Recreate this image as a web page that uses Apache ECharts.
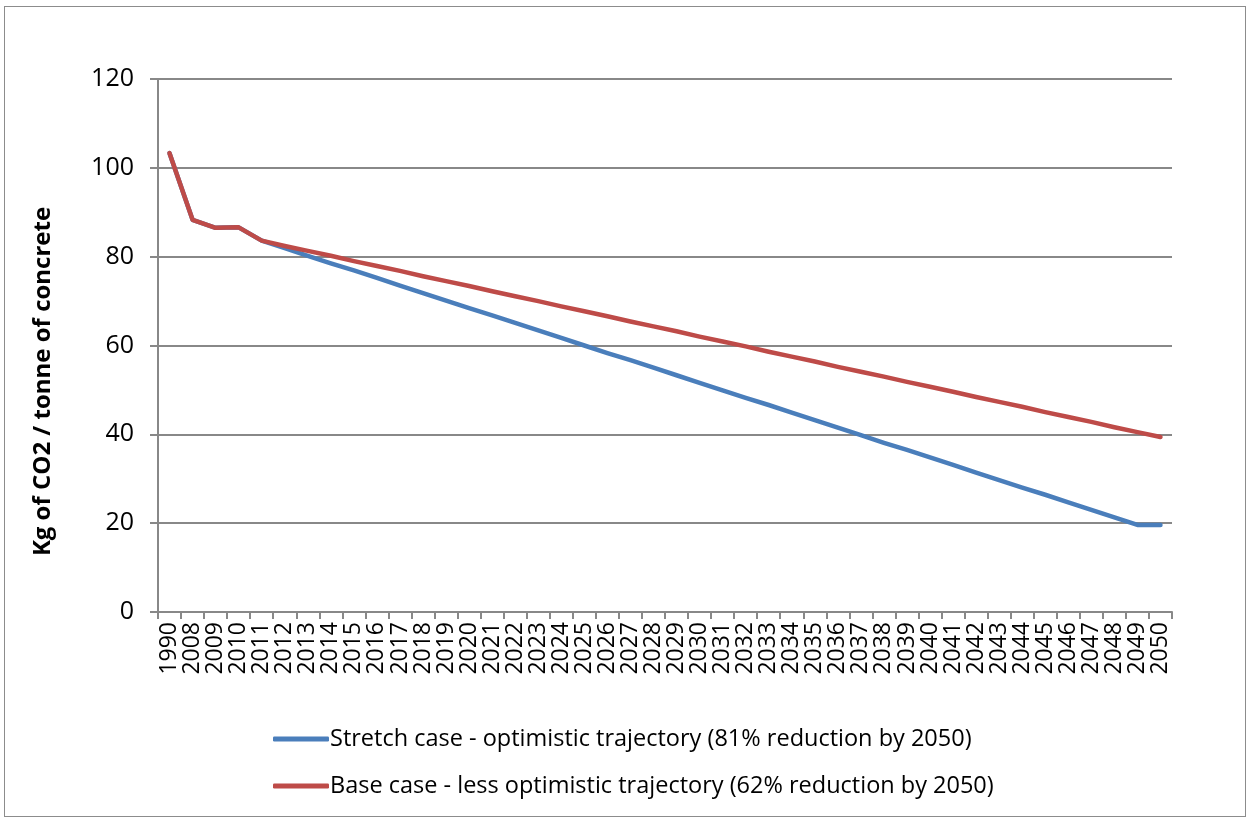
<!DOCTYPE html>
<html>
<head>
<meta charset="utf-8">
<script src="https://cdn.jsdelivr.net/npm/echarts@6/dist/echarts.min.js"></script>
<style>
html,body{margin:0;padding:0;background:#fff;}
#frame{position:absolute;left:4px;top:6px;width:1242px;height:811px;border:1px solid #8c8c8c;box-sizing:border-box;}
#chart{position:absolute;left:0;top:0;width:1250px;height:821px;}
</style>
</head>
<body>
<div id="frame"></div>
<div id="chart"></div>
<script>
const categories = ['1990','2008','2009','2010','2011','2012','2013','2014','2015','2016','2017','2018','2019','2020','2021','2022','2023','2024','2025','2026','2027','2028','2029','2030','2031','2032','2033','2034','2035','2036','2037','2038','2039','2040','2041','2042','2043','2044','2045','2046','2047','2048','2049','2050'];
const stretchCase = [103.3,88.3,86.5,86.6,83.6,81.9,80.2,78.5,76.9,75.2,73.5,71.8,70.1,68.4,66.8,65.1,63.4,61.7,60.0,58.3,56.7,55.0,53.3,51.6,49.9,48.2,46.6,44.9,43.2,41.5,39.8,38.1,36.5,34.8,33.1,31.4,29.7,28.0,26.4,24.7,23.0,21.3,19.6,19.6];
const baseCase = [103.3,88.3,86.5,86.6,83.6,82.4,81.3,80.2,79.0,77.9,76.8,75.6,74.5,73.4,72.2,71.1,70.0,68.8,67.7,66.6,65.4,64.3,63.2,62.0,60.9,59.8,58.6,57.5,56.4,55.2,54.1,53.0,51.8,50.7,49.6,48.4,47.3,46.2,45.0,43.9,42.8,41.6,40.5,39.4];
const seriesNames = ['Stretch case - optimistic trajectory (81% reduction by 2050)','Base case - less optimistic trajectory (62% reduction by 2050)'];
const yTicks = {min:0,max:120,interval:20};
const yTitle = 'Kg of CO2 / tonne of concrete';

const FONT = '"Open Sans", "Noto Sans", sans-serif';
const chart = echarts.init(document.getElementById('chart'), null, {renderer:'canvas'});
chart.setOption({
  animation:false,
  backgroundColor:'transparent',
  textStyle:{fontFamily:FONT},
  grid:{left:158, top:79, right:78, bottom:209, containLabel:false},
  legend:{
    orient:'vertical', left:268, top:722, itemGap:23,
    itemWidth:56, itemHeight:5, icon:'roundRect',
    textStyle:{fontFamily:FONT, fontSize:23.5, lineHeight:22, color:'#000', padding:[0,0,0,-4]},
    data:seriesNames
  },
  xAxis:{
    type:'category', data:categories, boundaryGap:true,
    axisLine:{lineStyle:{color:'#888', width:2}},
    axisTick:{show:true, length:7, lineStyle:{color:'#888', width:2}, alignWithLabel:false},
    axisLabel:{rotate:90, interval:0, fontSize:23, color:'#000', fontFamily:FONT, margin:10},
    splitLine:{show:false}
  },
  yAxis:{
    type:'value', min:yTicks.min, max:yTicks.max, interval:yTicks.interval,
    name:yTitle, nameLocation:'middle', nameGap:103, nameRotate:90,
    nameTextStyle:{fontFamily:FONT, fontSize:24, fontWeight:'bold', color:'#000', padding:[0,72,0,0]},
    axisLine:{show:true, lineStyle:{color:'#888', width:2}},
    axisTick:{show:true, length:8, lineStyle:{color:'#888', width:2}},
    axisLabel:{fontSize:25, color:'#000', fontFamily:FONT, margin:24},
    splitLine:{lineStyle:{color:'#888', width:2}}
  },
  series:[
    {name:seriesNames[0], type:'line', data:stretchCase, showSymbol:false, symbol:'none',
     lineStyle:{color:'#4a7ebb', width:4.5, cap:'round', join:'round'}, itemStyle:{color:'#4a7ebb'}, z:2},
    {name:seriesNames[1], type:'line', data:baseCase, showSymbol:false, symbol:'none',
     lineStyle:{color:'#be4b48', width:4.5, cap:'round', join:'round'}, itemStyle:{color:'#be4b48'}, z:3}
  ]
});
</script>
</body>
</html>
